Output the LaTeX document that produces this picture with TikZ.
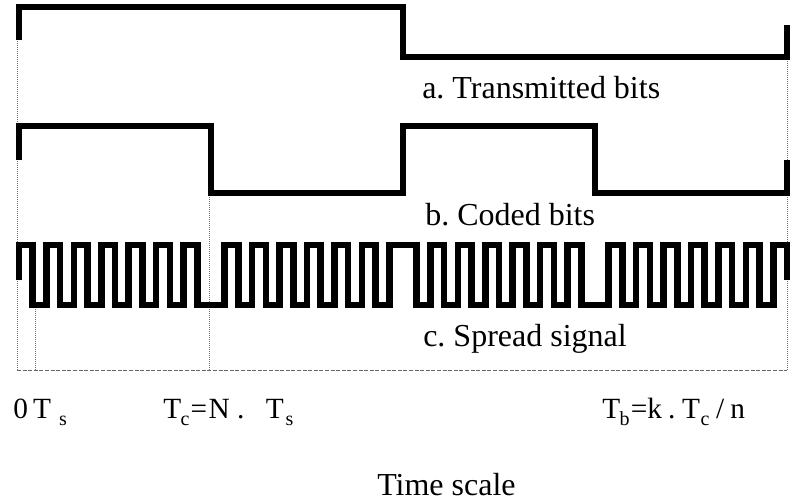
\documentclass[tikz,border=0pt]{standalone}
\usepackage{fontspec}
\setmainfont{Liberation Serif}
\frenchspacing
\newcommand{\sbs}[1]{\raisebox{-0.25em}{\fontsize{15}{15}\selectfont #1}}
\begin{document}
\begin{tikzpicture}[x=0.75pt,y=-0.75pt,
  wave/.style={line width=5pt, line join=miter, line cap=butt},
  guide/.style={line width=0.6pt, black!55, dash pattern=on 0.75pt off 0.75pt},
  baseln/.style={line width=0.6pt, black!60, dash pattern=on 3pt off 1.2pt},
  lbl/.style={inner sep=0pt, anchor=base west, font=\fontsize{24}{28}\selectfont},
  tlbl/.style={inner sep=0pt, anchor=base west, font=\fontsize{22}{26}\selectfont}]
\useasboundingbox (0,0) rectangle (795,502);
% guide lines
\coordinate (g0t) at (17,7);    \coordinate (g0b) at (17,370);
\coordinate (g1t) at (35,305);  \coordinate (g1b) at (35,370);
\coordinate (g2t) at (209,193); \coordinate (g2b) at (209,370);
\coordinate (g3t) at (787,25);  \coordinate (g3b) at (787,370);
\draw[guide] (g0t) -- (g0b);
\draw[guide] (g1t) -- (g1b);
\draw[guide] (g2t) -- (g2b);
\draw[guide] (g3t) -- (g3b);
\draw[baseln] (g0b) -- (g3b);
% a. transmitted bits
\draw[wave] (19,40) -- (19,7) -- (403,7) -- (403,57) -- (787,57) -- (787,25);
% b. coded bits
\draw[wave] (19,160) -- (19,126) -- (211,126) -- (211,193) -- (403,193) -- (403,126)
  -- (595,126) -- (595,193) -- (787,193) -- (787,160);
% c. spread signal
\draw[wave] (19,280) -- (19,245)
  \foreach \x/\y in {32.71/305,46.43/245,60.14/305,73.86/245,87.57/305,101.29/245,
    115.00/305,128.71/245,142.43/305,156.14/245,169.86/305,183.57/245,197.29/305,
    224.71/245,238.43/305,252.14/245,265.86/305,279.57/245,293.29/305,307.00/245,
    320.71/305,334.43/245,348.14/305,361.86/245,375.57/305,389.29/245,
    416.71/305,430.43/245,444.14/305,457.86/245,471.57/305,485.29/245,499.00/305,
    512.71/245,526.43/305,540.14/245,553.86/305,567.57/245,581.29/305,
    608.71/245,622.43/305,636.14/245,649.86/305,663.57/245,677.29/305,691.00/245,
    704.71/305,718.43/245,732.14/305,745.86/245,759.57/305,773.29/245}
  { -| (\x,\y) } -| (787,280);
% labels
\node[lbl] (la) at (422,99) {a. Transmitted bits};
\node[lbl] (lb) at (425,225) {b. Coded bits};
\node[lbl] (lc) at (423,346) {c. Spread signal};
\node[tlbl] (t0) at (13,418) {0\hspace{4pt}T\hspace{6pt}\sbs{s}};
\node[tlbl] (tc) at (163,418) {T\kern-0.5pt\sbs{c}\kern1pt=\kern1pt N .\hspace{16pt}T\kern1.5pt\sbs{s}};
\node[tlbl] (tb) at (602,418) {T\kern-0.5pt\sbs{b}\kern1pt=k\hspace{4.5pt}.\hspace{5pt}T\kern0.5pt\sbs{c}\hspace{5pt}/\hspace{4.5pt}n};
\node[lbl] (ts) at (377,495) {Time scale};
\end{tikzpicture}
\end{document}
